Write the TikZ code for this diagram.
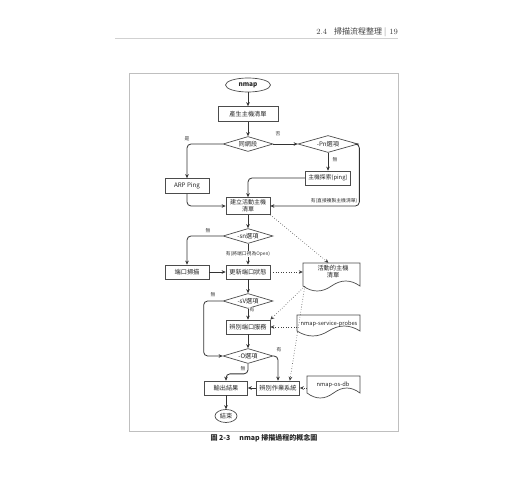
\documentclass[tikz,border=0pt]{standalone}
\usepackage{fontspec}
\setmainfont{Noto Sans CJK TC}
\newfontfamily\lmr{Latin Modern Roman}
\usetikzlibrary{arrows.meta,shapes.geometric,calc}
\newcommand\docshape[5]{% x1 y1 x2 yend amplitude
  \pgfmathsetmacro\dxm{(#1+#3)/2}%
  \pgfmathsetmacro\dw{(#3-#1)/6}%
  \draw[docline] (#1,#2) -- (#3,#2) -- (#3,#4)
    .. controls ({#3-\dw},{#4-1.33*#5}) and ({\dxm+\dw},{#4-1.33*#5}) .. (\dxm,#4)
    .. controls ({\dxm-\dw},{#4+1.33*#5}) and ({#1+\dw},{#4+1.33*#5}) .. (#1,#4) -- cycle;}
\begin{document}
\begin{tikzpicture}[x=1pt,y=-1pt,
  lbl/.style={font=\fontsize{6.2}{7.2}\selectfont, align=center, text=black!85},
  proc/.style={draw=black!70, line width=0.7pt, fill=white, minimum width=44pt, minimum height=14pt, inner sep=0pt, lbl},
  dec/.style={diamond, draw=black!70, line width=0.7pt, fill=white, aspect=3.3, inner sep=0pt, lbl, minimum width=50pt, minimum height=15pt},
  term/.style={ellipse, draw=black!70, line width=0.7pt, fill=white, inner sep=0pt, lbl},
  docline/.style={draw=black!70, line width=0.7pt, fill=white},
  flow/.style={draw=black!80, line width=0.8pt, -{Stealth[length=4pt,width=3.6pt]}, rounded corners=4pt},
  data/.style={draw=black!75, line width=0.6pt, dotted, -{Stealth[length=4pt,width=3.6pt]}},
  tag/.style={font=\fontsize{4.8}{5.5}\selectfont, fill=white, inner sep=0.6pt, text=black!80},
]
\useasboundingbox (0,0) rectangle (520,500);
\fill[white] (0,0) rectangle (520,500);

% page header and frame
\draw[black!18, line width=1.2pt] (115,38.5) -- (398,38.5);
\node[anchor=east, font=\fontsize{8}{9}\selectfont, text=black!75, inner sep=0pt] (hdr) at (398,32)
  {{\lmr 2.4}\hspace{7pt}掃描流程整理\hspace{2pt}{\color{black!40}|}\hspace{3pt}{\lmr 19}};
\draw[black!25, line width=0.6pt] (129,73) rectangle (398,431);
\node[font=\fontsize{7}{8}\selectfont\bfseries, text=black!85, inner sep=0pt] (cap) at (264,438)
  {圖 2-3\hspace{9pt}nmap 掃描過程的概念圖};

% documents
\docshape{303}{263}{360}{286}{5}
\node[minimum width=57pt, minimum height=23pt, inner sep=0pt] (act) at (331.5,274.5) {};
\node[lbl] (actt) at (333,272) {活動的主機\\清單};
\docshape{297}{315}{360}{331}{5}
\node[minimum width=63pt, minimum height=16pt, inner sep=0pt] (probes) at (328.5,323) {};
\node[lbl, font=\fontsize{5.7}{6.5}\selectfont] (probest) at (329,324) {nmap-service-probes};
\docshape{307}{376}{360}{393}{5}
\node[minimum width=53pt, minimum height=17pt, inner sep=0pt] (osdb) at (333.5,384.5) {};
\node[lbl, font=\fontsize{5.7}{6.5}\selectfont] (osdbt) at (333,385) {nmap-os-db};

% flow nodes
\node[term, minimum width=45pt, minimum height=14pt, font=\fontsize{6.5}{7.5}\selectfont\bfseries] (nmap) at (248,85) {nmap};
\node[proc, minimum width=60pt, minimum height=15pt] (gen) at (248,114) {產生主機清單};
\node[dec] (same) at (248,144) {同網段};
\node[dec, minimum width=60pt, minimum height=17pt] (pn) at (328,144) {-Pn選項};
\node[proc, minimum height=15pt] (arp) at (187,186) {ARP Ping};
\node[proc, minimum width=45pt, font=\fontsize{5.8}{7}\selectfont] (disc) at (328,178) {主機探索(ping)};
\node[proc, minimum height=17pt, font=\fontsize{6}{6.8}\selectfont] (build) at (248,206) {建立活動主機\\清單};
\node[dec] (sn) at (248,236) {-sn選項};
\node[proc] (pscan) at (187,272) {端口掃描};
\node[proc] (upd) at (248,272) {更新端口狀態};
\node[dec] (sv) at (248,301) {-sV選項};
\node[proc] (svc) at (248,327) {辨別端口服務};
\node[dec] (opt) at (248,356) {-O選項};
\node[proc, minimum width=43pt] (os) at (278,388) {辨別作業系統};
\node[proc, minimum width=43pt] (out) at (226,388) {輸出結果};
\node[term, minimum width=22pt, minimum height=13pt] (end) at (226,416) {結束};

% connectors
\draw[flow] (nmap) -- (gen);
\draw[flow] (gen) -- (same);
\draw[flow] (same.west) -| (arp.north);
\draw[flow] (same.east) -- (pn.west);
\draw[flow] (pn.south) -- (disc.north);
\draw[flow] (pn.east) -- ++(1,0) |- (build.east);
\draw[flow] (disc.west) -| (build.north);
\draw[flow] (arp.south) |- (build.west);
\draw[flow] (build) -- (sn);
\draw[flow] (sn.west) -| (pscan.north);
\draw[flow] (sn) -- (upd);
\draw[flow] (pscan) -- (upd);
\draw[data] (build.south east) -- ([xshift=-3pt]act.north);
\draw[data] (upd.east) -- (upd.east -| act.west);
\draw[flow] (upd) -- (sv);
\draw[flow] (sv.west) -- ++(-19,0) |- (opt.west);
\draw[flow] (sv) -- (svc);
\draw[data] ([xshift=2pt]act.south west) -- (svc.north east);
\draw[data] ([xshift=2pt]act.south west) -- ([xshift=-10pt]os.north east);
\draw[data] (svc.east -| probes.west) -- (svc.east);
\draw[flow] (svc) -- (opt);
\draw[flow] (opt.east) -| (os.north);
\draw[flow] (opt.south) -- ++(0,10) -| (out.north);
\draw[flow] (os) -- (out);
\draw[data] (os.east -| osdb.west) -- (os.east);
\draw[flow] (out) -- (end);

% labels
\node[tag] (tyes) at (187,139) {是};
\node[tag] (tno) at (278,134) {否};
\node[tag] (tpn) at (335,160) {無};
\node[tag] (tcopy) at (334,201) {有(直接複製主機清單)};
\node[tag] (tsn) at (208,231) {無};
\node[tag] (topen) at (248,254) {有(將端口視為Open)};
\node[tag] (tsvn) at (213,295) {無};
\node[tag] (tsvy) at (252,310) {有};
\node[tag] (toy) at (279,350) {有};
\node[tag] (ton) at (243,369) {無};
\end{tikzpicture}
\end{document}
